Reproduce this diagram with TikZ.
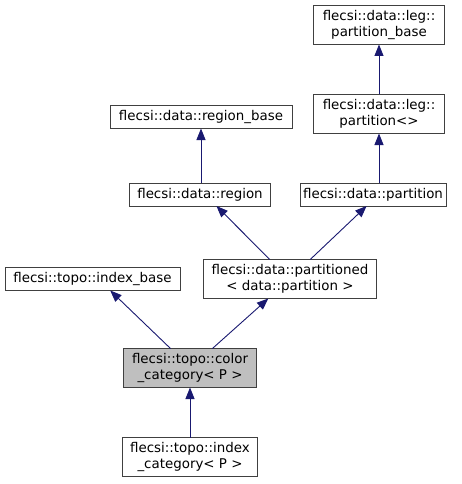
\documentclass[tikz,border=0pt]{standalone}
\usepackage{fontspec}
\setmainfont{DejaVu Sans}
\usetikzlibrary{arrows.meta}
\definecolor{edgeblue}{RGB}{25,25,112}
\definecolor{classgray}{RGB}{191,191,191}

\begin{document}
\begin{tikzpicture}[x=1pt, y=-1pt,
	cls/.style={draw=black!75, line width=0.9pt, fill=white, inner sep=0pt, outer sep=0pt,
		align=center, font=\fontsize{13.4}{16.5}\selectfont},
	clsone/.style={cls, minimum height=23pt},
	clstwo/.style={cls, minimum height=39pt},
	edge/.style={draw=edgeblue, line width=0.9pt, -{Triangle[length=11.5pt, width=9pt]}}]
			%%%%% START %%%%%
			
			\useasboundingbox (0, 0) rectangle (461, 484);
			
			\node[clstwo, minimum width=131pt] (pbase) at (379, 25) {flecsi::data::leg::\\partition\_base};
			\node[clstwo, minimum width=131pt] (pleg) at (379, 114) {flecsi::data::leg::\\partition<>};
			
			\node[clsone, minimum width=182pt] (rbase) at (201, 117) {flecsi::data::region\_base};
			\node[clsone, minimum width=141pt] (region) at (200, 194.5) {flecsi::data::region};
			\node[clsone, minimum width=146pt] (partition) at (373, 194.5) {flecsi::data::partition};
			
			\node[clsone, minimum width=175pt] (ibase) at (92.5, 279) {flecsi::topo::index\_base};
			\node[clstwo, minimum width=173pt] (partitioned) at (290, 279) {flecsi::data::partitioned\\< data::partition >};
			
			\node[clstwo, minimum width=133pt, fill=classgray] (color) at (190, 368) {flecsi::topo::color\\\_category< P >};
			\node[clstwo, minimum width=135pt] (index) at (190, 457) {flecsi::topo::index\\\_category< P >};
			
			\draw[edge] (pleg.north) -- (pbase.south);
			\draw[edge] (partition.north -| pleg.south) -- (pleg.south);
			\draw[edge] (region.north -| rbase.south) -- (rbase.south);
			
			\draw[edge] (partitioned.136) -- (region.-35);
			\draw[edge] (partitioned.44) -- (partition.-119);
			
			\draw[edge] (color.135) -- (ibase.-33);
			\draw[edge] (color.41) -- (partitioned.-138);
			\draw[edge] (index.north) -- (color.south);
			
			%%%%% END %%%%%
\end{tikzpicture}
\end{document}
